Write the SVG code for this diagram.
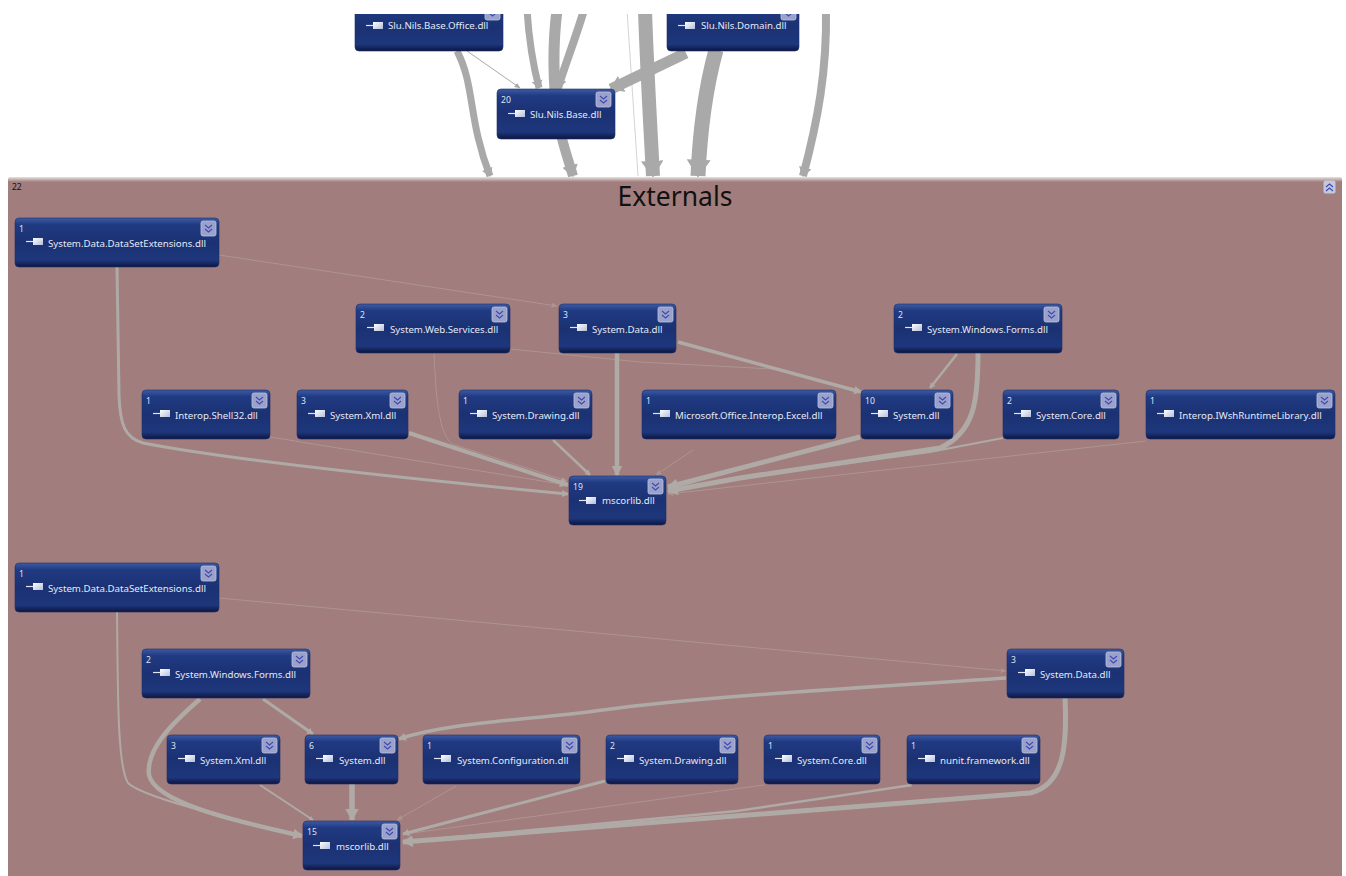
<svg xmlns="http://www.w3.org/2000/svg" xmlns:xlink="http://www.w3.org/1999/xlink" width="1346" height="876" viewBox="0 0 1346 876">
<style>
text{font-family:"Noto Sans","DejaVu Sans",sans-serif}
.bg{fill:url(#nodeGrad);stroke:#1f3068;stroke-width:.6}
.num{font-size:8.6px;fill:#dfe6f5}
.lbl{font-size:9.7px;fill:#e4e9f6}
.btn{fill:#9aa2cc;stroke:#bcc2de;stroke-width:.8}
.chev{fill:none;stroke:#3f49ad;stroke-width:1.1}
.e{fill:none;stroke:#a9a9a9}
.p{fill:none;stroke:#afaaa6}
.f{fill:none;stroke:#ad9492;stroke-width:1}
</style>
<defs>
<linearGradient id="nodeGrad" x1="0" y1="0" x2="0" y2="1">
<stop offset="0" stop-color="#3c5aa2"/><stop offset=".14" stop-color="#203a82"/><stop offset=".5" stop-color="#1b3173"/><stop offset=".86" stop-color="#1e377c"/><stop offset="1" stop-color="#0c1540"/>
</linearGradient>
<linearGradient id="panelGrad" x1="0" y1="0" x2="0" y2="1">
<stop offset="0" stop-color="#e8e2e2"/><stop offset="1" stop-color="#a17d7d"/>
</linearGradient>
<linearGradient id="iconGrad" x1="0" y1="0" x2="1" y2="1">
<stop offset="0" stop-color="#ffffff"/><stop offset="1" stop-color="#b3bfdc"/>
</linearGradient>
<marker id="a" viewBox="0 0 10 10" refX="9" refY="5" markerWidth="1.2" markerHeight="1.6" preserveAspectRatio="none" orient="auto" markerUnits="strokeWidth"><path d="M0 0L10 5L0 10Z" fill="#a9a9a9"/></marker>
<marker id="b" viewBox="0 0 10 10" refX="9" refY="5" markerWidth="2.2" markerHeight="2.4" preserveAspectRatio="none" orient="auto" markerUnits="strokeWidth"><path d="M0 0L10 5L0 10Z" fill="#afaaa6"/></marker>
<marker id="c" viewBox="0 0 10 10" refX="9" refY="5" markerWidth="6" markerHeight="5" preserveAspectRatio="none" orient="auto" markerUnits="strokeWidth"><path d="M0 0L10 5L0 10Z" fill="#ad9492"/></marker>
<marker id="d" viewBox="0 0 10 10" refX="9" refY="5" markerWidth="6" markerHeight="5" preserveAspectRatio="none" orient="auto" markerUnits="strokeWidth"><path d="M0 0L10 5L0 10Z" fill="#a9a9a9"/></marker>
<g id="icon"><path d="M0 .5h7" stroke="#dfe6f5" stroke-width="1.2"/><rect x="7" y="-3" width="10" height="7" fill="url(#iconGrad)"/></g>
<g id="btn"><rect class="btn" width="15" height="15" rx="2"/><path class="chev" d="M4 4l3.5 3 3.5-3M4 8l3.5 3 3.5-3"/></g>
<g id="btnUp"><rect x=".5" y=".5" width="12" height="13" rx="2" fill="#c4c8de"/><path class="chev" d="M3 7l3.5-3 3.5 3M3 11l3.5-3 3.5 3"/></g>
</defs>

<rect width="1346" height="876" fill="#fff"/>

<g id="top-connectors">
<path class="e" stroke-width="7" marker-end="url(#a)" d="M457 51C475 85 468 120 490 176"/>
<path class="e" stroke-width="1" marker-end="url(#d)" d="M467 51L520 88"/>
<path class="e" stroke-width="7" marker-end="url(#a)" d="M527 10C529 40 533 65 539 88"/>
<path class="e" stroke-width="11" d="M557 10C552 50 554 90 558 120"/>
<path class="e" stroke-width="10" marker-end="url(#a)" d="M558 120C561 140 567 155 573 176"/>
<path class="e" stroke-width="8" marker-end="url(#a)" d="M584 10C575 40 565 65 558 88"/>
<path fill="none" stroke="#d4d4d4" stroke-width="1" d="M627 10L638 176"/>
<path class="e" stroke-width="14" marker-end="url(#a)" d="M645 10C647 70 650 120 653 176"/>
<path class="e" stroke-width="11" marker-end="url(#a)" d="M686 53L611 89"/>
<path class="e" stroke-width="15" marker-end="url(#a)" d="M716 50C705 90 700 130 698 176"/>
<path class="e" stroke-width="8" marker-end="url(#a)" d="M826 10C827 70 818 120 803 176"/>
</g>

<g id="base-nodes">
<g id="n-office"><rect class="bg" x="355" y="2" width="148" height="49" rx="4"/><use xlink:href="#btn" href="#btn" x="485" y="5"/><use xlink:href="#icon" href="#icon" x="366" y="25"/><text class="lbl" x="388" y="29">Slu.Nils.Base.Office.dll</text></g>
<g id="n-domain"><rect class="bg" x="667" y="2" width="132" height="49" rx="4"/><use xlink:href="#btn" href="#btn" x="781" y="5"/><use xlink:href="#icon" href="#icon" x="678" y="25"/><text class="lbl" x="701" y="29">Slu.Nils.Domain.dll</text></g>
<g id="n-base"><rect class="bg" x="497" y="89" width="118" height="50" rx="4"/><text class="num" x="501" y="103">20</text><use xlink:href="#btn" href="#btn" x="596" y="92"/><use xlink:href="#icon" href="#icon" x="508" y="113"/><text class="lbl" x="530" y="118">Slu.Nils.Base.dll</text></g>
</g>
<rect id="top-mask" width="1346" height="14" fill="#fff"/>

<g id="externals">
<rect x="8" y="177" width="1334" height="705" rx="4" fill="#a17d7d"/>
<rect x="8" y="177" width="1334" height="5" rx="2" fill="url(#panelGrad)"/>
<text x="12" y="190" font-size="8.5" fill="#1a1010">22</text>
<text x="675" y="206" font-size="26.5" text-anchor="middle" fill="#111">Externals</text>
<use xlink:href="#btnUp" href="#btnUp" x="1323" y="180"/>
</g>

<g id="connectors">
<path class="f" marker-end="url(#c)" d="M219 255L557 306"/>
<path class="f" marker-end="url(#c)" d="M510 349L640 362L773 369L860 390"/>
<path class="f" marker-end="url(#c)" d="M434 353C436 395 438 432 452 444L567 481"/>
<path class="f" marker-end="url(#c)" d="M270 437L567 485"/>
<path class="f" marker-end="url(#c)" d="M693 450L656 475"/>
<path class="f" marker-end="url(#c)" d="M1146 441L668 494"/>
<path class="p" stroke-width="3" marker-end="url(#b)" d="M117 267L119 395C120 425 125 438 143 443C220 458 400 478 568 494"/>
<path class="p" stroke-width="4.5" marker-end="url(#b)" d="M617 353L617 475"/>
<path class="p" stroke-width="3.5" marker-end="url(#b)" d="M678 342L861 392"/>
<path class="p" stroke-width="2.5" marker-end="url(#b)" d="M957 354L930 388"/>
<path class="p" stroke-width="5" marker-end="url(#b)" d="M978 353C978 400 975 432 940 448L740 478L668 491"/>
<path class="p" stroke-width="4" marker-end="url(#b)" d="M409 433L568 485"/>
<path class="p" stroke-width="2.5" marker-end="url(#b)" d="M553 440L590 475"/>
<path class="p" stroke-width="5" marker-end="url(#b)" d="M860 437L668 487"/>
<path class="p" stroke-width="2" d="M1003 438L930 452L740 478L668 491"/>

<path class="f" marker-end="url(#c)" d="M219 598L1006 671"/>
<path class="f" marker-end="url(#c)" d="M456 786L397 820"/>
<path class="f" marker-end="url(#c)" d="M764 785L405 834"/>
<path class="p" stroke-width="2" marker-end="url(#b)" d="M117 612C118 690 117 765 128 783C140 795 220 818 302 835"/>
<path class="p" stroke-width="3" marker-end="url(#b)" d="M263 699L313 734"/>
<path class="p" stroke-width="4.5" marker-end="url(#b)" d="M200 699C170 725 146 750 149 775C155 802 230 820 302 836"/>
<path class="p" stroke-width="3.5" marker-end="url(#b)" d="M1006 678C920 684 700 696 603 710C530 720 450 722 399 739"/>
<path class="p" stroke-width="5" marker-end="url(#b)" d="M1065 698C1067 740 1066 785 1030 793L403 842"/>
<path class="p" stroke-width="2" marker-end="url(#b)" d="M260 785L313 820"/>
<path class="p" stroke-width="5.5" marker-end="url(#b)" d="M352 784L352 820"/>
<path class="p" stroke-width="3" marker-end="url(#b)" d="M605 781L403 834"/>
<path class="p" stroke-width="2.5" d="M912 785L737 811L403 842"/>
</g>

<g id="upper-nodes">
<g id="u-dse"><rect class="bg" x="15" y="218" width="204" height="49" rx="4"/><text class="num" x="19" y="232">1</text><use xlink:href="#btn" href="#btn" x="201" y="221"/><use xlink:href="#icon" href="#icon" x="26" y="241"/><text class="lbl" x="48" y="247">System.Data.DataSetExtensions.dll</text></g>
<g id="u-web"><rect class="bg" x="356" y="304" width="154" height="49" rx="4"/><text class="num" x="360" y="318">2</text><use xlink:href="#btn" href="#btn" x="492" y="307"/><use xlink:href="#icon" href="#icon" x="367" y="327"/><text class="lbl" x="390" y="333">System.Web.Services.dll</text></g>
<g id="u-data"><rect class="bg" x="559" y="304" width="117" height="49" rx="4"/><text class="num" x="563" y="318">3</text><use xlink:href="#btn" href="#btn" x="658" y="307"/><use xlink:href="#icon" href="#icon" x="570" y="327"/><text class="lbl" x="592" y="333">System.Data.dll</text></g>
<g id="u-win"><rect class="bg" x="894" y="304" width="168" height="49" rx="4"/><text class="num" x="898" y="318">2</text><use xlink:href="#btn" href="#btn" x="1044" y="307"/><use xlink:href="#icon" href="#icon" x="905" y="327"/><text class="lbl" x="927" y="333">System.Windows.Forms.dll</text></g>
<g id="u-shell"><rect class="bg" x="142" y="390" width="128" height="49" rx="4"/><text class="num" x="146" y="404">1</text><use xlink:href="#btn" href="#btn" x="252" y="393"/><use xlink:href="#icon" href="#icon" x="153" y="413"/><text class="lbl" x="175" y="419">Interop.Shell32.dll</text></g>
<g id="u-xml"><rect class="bg" x="297" y="390" width="111" height="49" rx="4"/><text class="num" x="301" y="404">3</text><use xlink:href="#btn" href="#btn" x="390" y="393"/><use xlink:href="#icon" href="#icon" x="308" y="413"/><text class="lbl" x="330" y="419">System.Xml.dll</text></g>
<g id="u-draw"><rect class="bg" x="459" y="390" width="133" height="49" rx="4"/><text class="num" x="463" y="404">1</text><use xlink:href="#btn" href="#btn" x="574" y="393"/><use xlink:href="#icon" href="#icon" x="470" y="413"/><text class="lbl" x="492" y="419">System.Drawing.dll</text></g>
<g id="u-excel"><rect class="bg" x="642" y="390" width="194" height="49" rx="4"/><text class="num" x="646" y="404">1</text><use xlink:href="#btn" href="#btn" x="818" y="393"/><use xlink:href="#icon" href="#icon" x="653" y="413"/><text class="lbl" x="675" y="419">Microsoft.Office.Interop.Excel.dll</text></g>
<g id="u-sys"><rect class="bg" x="861" y="390" width="92" height="49" rx="4"/><text class="num" x="865" y="404">10</text><use xlink:href="#btn" href="#btn" x="935" y="393"/><use xlink:href="#icon" href="#icon" x="871" y="413"/><text class="lbl" x="893" y="419">System.dll</text></g>
<g id="u-core"><rect class="bg" x="1003" y="390" width="116" height="49" rx="4"/><text class="num" x="1007" y="404">2</text><use xlink:href="#btn" href="#btn" x="1101" y="393"/><use xlink:href="#icon" href="#icon" x="1014" y="413"/><text class="lbl" x="1036" y="419">System.Core.dll</text></g>
<g id="u-iwsh"><rect class="bg" x="1146" y="390" width="189" height="49" rx="4"/><text class="num" x="1150" y="404">1</text><use xlink:href="#btn" href="#btn" x="1317" y="393"/><use xlink:href="#icon" href="#icon" x="1157" y="413"/><text class="lbl" x="1179" y="419">Interop.IWshRuntimeLibrary.dll</text></g>
<g id="u-mscorlib"><rect class="bg" x="569" y="476" width="97" height="49" rx="4"/><text class="num" x="573" y="490">19</text><use xlink:href="#btn" href="#btn" x="648" y="479"/><use xlink:href="#icon" href="#icon" x="579" y="500"/><text class="lbl" x="602" y="504">mscorlib.dll</text></g>
</g>

<g id="lower-nodes">
<g id="l-dse"><rect class="bg" x="15" y="563" width="204" height="49" rx="4"/><text class="num" x="19" y="577">1</text><use xlink:href="#btn" href="#btn" x="201" y="566"/><use xlink:href="#icon" href="#icon" x="26" y="586"/><text class="lbl" x="48" y="592">System.Data.DataSetExtensions.dll</text></g>
<g id="l-win"><rect class="bg" x="142" y="649" width="168" height="49" rx="4"/><text class="num" x="146" y="663">2</text><use xlink:href="#btn" href="#btn" x="292" y="652"/><use xlink:href="#icon" href="#icon" x="153" y="672"/><text class="lbl" x="175" y="678">System.Windows.Forms.dll</text></g>
<g id="l-data"><rect class="bg" x="1007" y="649" width="117" height="49" rx="4"/><text class="num" x="1011" y="663">3</text><use xlink:href="#btn" href="#btn" x="1106" y="652"/><use xlink:href="#icon" href="#icon" x="1018" y="672"/><text class="lbl" x="1040" y="678">System.Data.dll</text></g>
<g id="l-xml"><rect class="bg" x="167" y="735" width="113" height="49" rx="4"/><text class="num" x="171" y="749">3</text><use xlink:href="#btn" href="#btn" x="262" y="738"/><use xlink:href="#icon" href="#icon" x="178" y="758"/><text class="lbl" x="200" y="764">System.Xml.dll</text></g>
<g id="l-sys"><rect class="bg" x="305" y="735" width="93" height="49" rx="4"/><text class="num" x="309" y="749">6</text><use xlink:href="#btn" href="#btn" x="380" y="738"/><use xlink:href="#icon" href="#icon" x="316" y="758"/><text class="lbl" x="339" y="764">System.dll</text></g>
<g id="l-conf"><rect class="bg" x="423" y="735" width="157" height="49" rx="4"/><text class="num" x="427" y="749">1</text><use xlink:href="#btn" href="#btn" x="562" y="738"/><use xlink:href="#icon" href="#icon" x="434" y="758"/><text class="lbl" x="457" y="764">System.Configuration.dll</text></g>
<g id="l-draw"><rect class="bg" x="606" y="735" width="132" height="49" rx="4"/><text class="num" x="610" y="749">2</text><use xlink:href="#btn" href="#btn" x="720" y="738"/><use xlink:href="#icon" href="#icon" x="617" y="758"/><text class="lbl" x="639" y="764">System.Drawing.dll</text></g>
<g id="l-core"><rect class="bg" x="764" y="735" width="116" height="49" rx="4"/><text class="num" x="768" y="749">1</text><use xlink:href="#btn" href="#btn" x="862" y="738"/><use xlink:href="#icon" href="#icon" x="775" y="758"/><text class="lbl" x="797" y="764">System.Core.dll</text></g>
<g id="l-nunit"><rect class="bg" x="907" y="735" width="133" height="49" rx="4"/><text class="num" x="911" y="749">1</text><use xlink:href="#btn" href="#btn" x="1022" y="738"/><use xlink:href="#icon" href="#icon" x="918" y="758"/><text class="lbl" x="940" y="764">nunit.framework.dll</text></g>
<g id="l-mscorlib"><rect class="bg" x="303" y="821" width="97" height="49" rx="4"/><text class="num" x="307" y="835">15</text><use xlink:href="#btn" href="#btn" x="382" y="824"/><use xlink:href="#icon" href="#icon" x="313" y="845"/><text class="lbl" x="336" y="850">mscorlib.dll</text></g>
</g>
</svg>
